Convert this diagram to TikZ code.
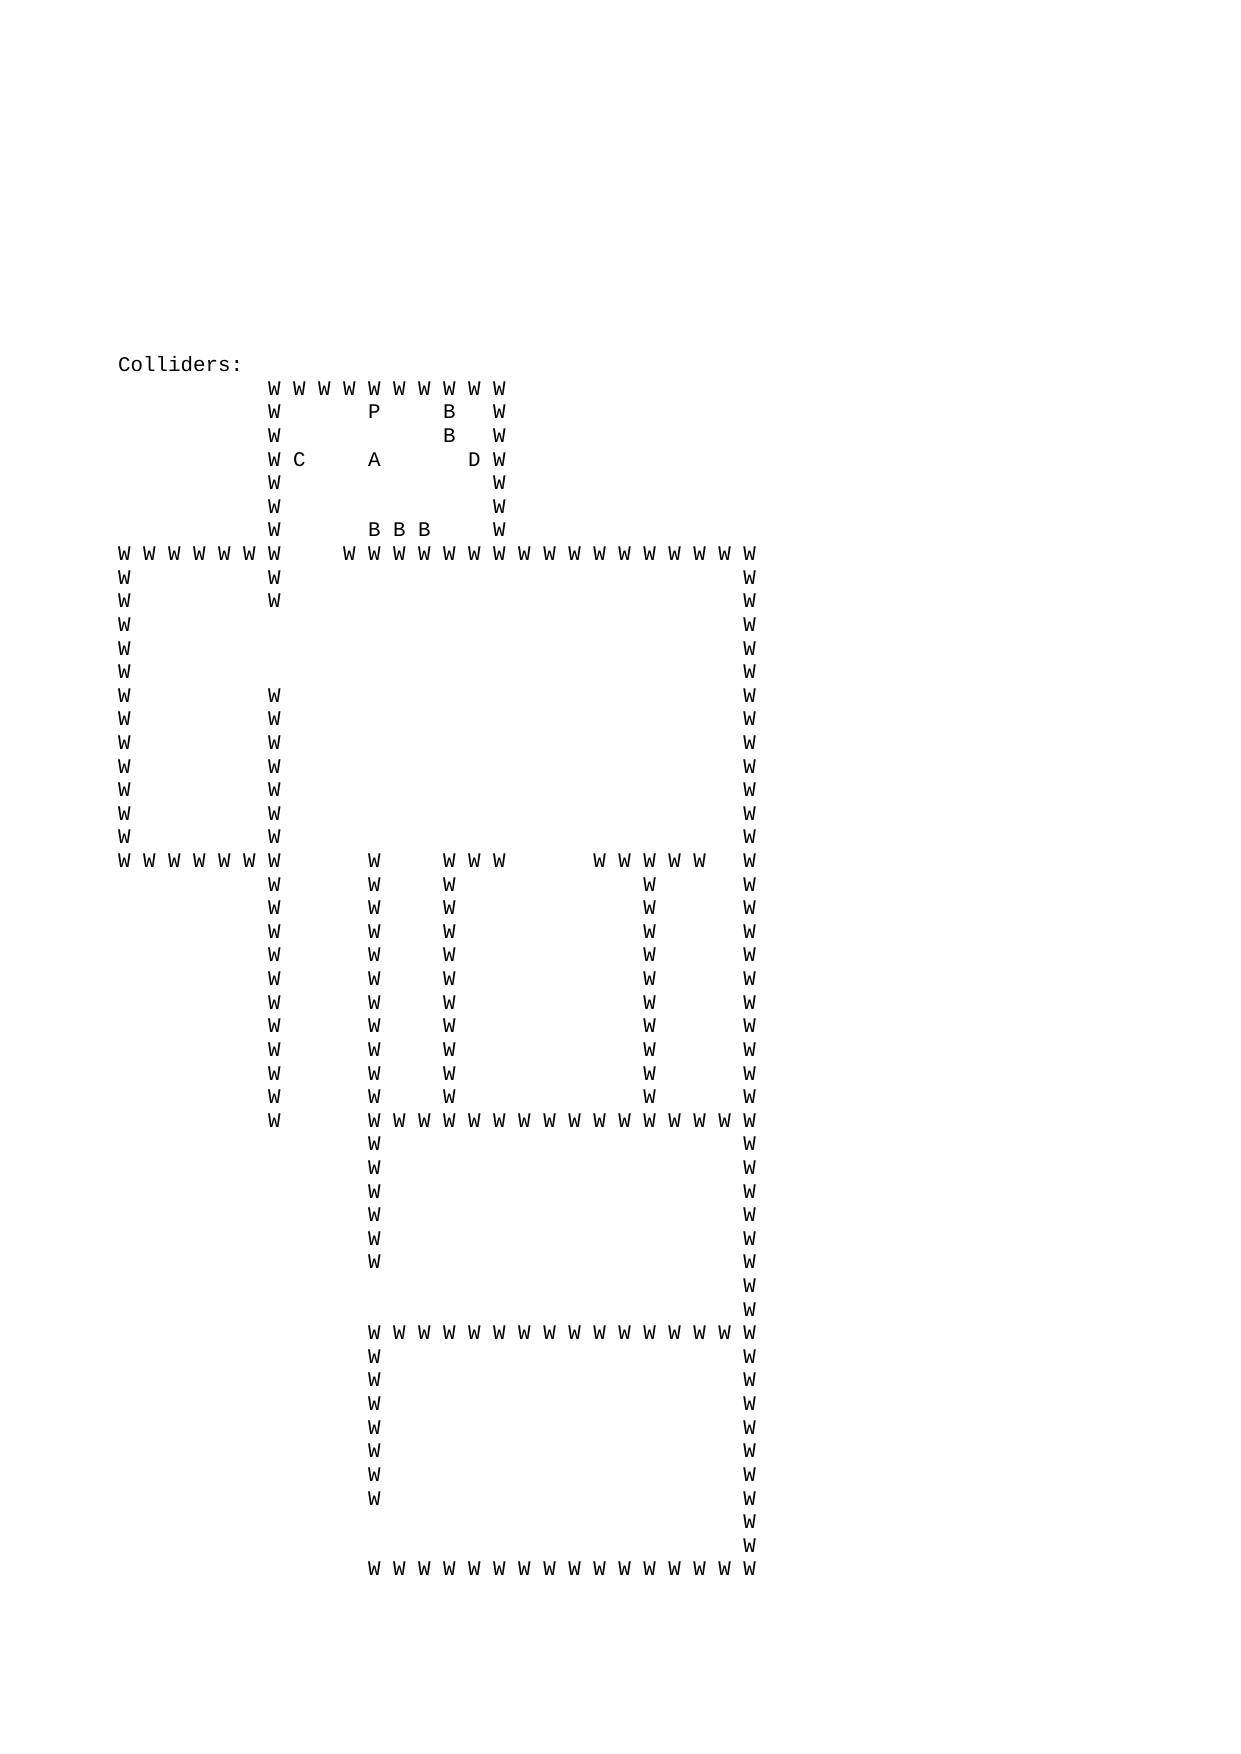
\documentclass[tikz,border=0pt]{standalone}
\usepackage{fontspec}
\newfontfamily\gridfont{Liberation Mono}
\tikzset{ch/.style={anchor=base west, inner sep=0pt, outer sep=0pt, font=\gridfont\fontsize{10pt}{11.33pt}\selectfont}}
\newcommand\gridrow[3]{\foreach \c in {#2} {\node[ch] (g-#1-\c) at (\c,#1) {#3};}}
\begin{document}
\begin{tikzpicture}
\path[use as bounding box] (0,0) rectangle (595.28pt,-841.89pt);
\begin{scope}[shift={(56.69pt,-178.4pt)}, x=6.0017pt, y=-11.333pt]
\node[ch] (title) at (0,0) {Colliders:};
% top room
\gridrow{1}{12,14,...,30}{W}
\gridrow{2}{12,30}{W}
\gridrow{2}{20}{P}
\gridrow{2}{26}{B}
\gridrow{3}{12,30}{W}
\gridrow{3}{26}{B}
\gridrow{4}{12,30}{W}
\gridrow{4}{14}{C}
\gridrow{4}{20}{A}
\gridrow{4}{28}{D}
\foreach \r in {5,6} {\gridrow{\r}{12,30}{W}}
\gridrow{7}{12,30}{W}
\gridrow{7}{20,22,24}{B}
% big middle room
\gridrow{8}{0,2,...,12,18,20,...,50}{W}
\foreach \r in {9,10} {\gridrow{\r}{0,12,50}{W}}
\foreach \r in {11,12,13} {\gridrow{\r}{0,50}{W}}
\foreach \r in {14,...,20} {\gridrow{\r}{0,12,50}{W}}
\gridrow{21}{0,2,...,12,20,26,28,30,38,40,...,46,50}{W}
\foreach \r in {22,...,31} {\gridrow{\r}{12,20,26,42,50}{W}}
\gridrow{32}{12,20,22,...,50}{W}
% lower rooms
\foreach \r in {33,...,38} {\gridrow{\r}{20,50}{W}}
\foreach \r in {39,40} {\gridrow{\r}{50}{W}}
\gridrow{41}{20,22,...,50}{W}
\foreach \r in {42,...,48} {\gridrow{\r}{20,50}{W}}
\foreach \r in {49,50} {\gridrow{\r}{50}{W}}
\gridrow{51}{20,22,...,50}{W}
\end{scope}
\end{tikzpicture}
\end{document}
